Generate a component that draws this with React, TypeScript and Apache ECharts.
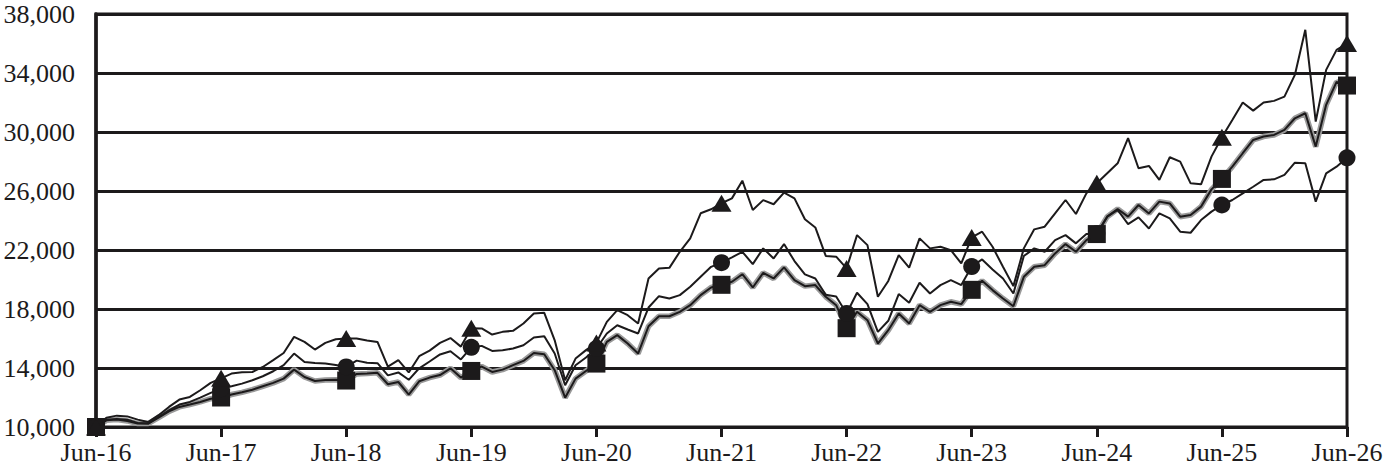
import React, { useEffect, useRef } from "react";
import * as echarts from "echarts";

const tickLabels = ["Jun-16", "Jun-17", "Jun-18", "Jun-19", "Jun-20", "Jun-21", "Jun-22", "Jun-23", "Jun-24", "Jun-25", "Jun-26"];

const triangleValues = [
  10000, 10630, 10770, 10720, 10500, 10340, 10800, 11360, 11860, 12040, 12490, 12990,
  13300, 13620, 13710, 13730, 14070, 14530, 15020, 16110, 15770, 15250, 15700, 15950,
  16000, 16000, 15870, 15770, 14100, 14530, 13700, 14800, 15180, 15700, 16030, 15450,
  16700, 16680, 16270, 16450, 16520, 17020, 17700, 17740, 15880, 13170, 14640, 15210,
  15700, 17130, 17920, 17580, 17020, 20070, 20750, 20790, 21880, 22790, 24490, 24760,
  25170, 25500, 26700, 24710, 25380, 25100, 25890, 25500, 24080, 23530, 21600, 21550,
  20750, 23010, 22330, 18830, 19900, 21650, 20800, 22790, 22110, 22220, 21990, 21090,
  22850, 23240, 22220, 20860, 19550, 22110, 23400, 23580, 24490, 25390, 24440, 25840,
  26520, 27200, 27880, 29580, 27540, 27700, 26750, 28290, 27990, 26520, 26450, 28330,
  29650, 30820, 32000, 31450, 32000, 32110, 32400, 33870, 36930, 30710, 34210, 35570,
  36000,
];

const circleValues = [
  10000, 10500, 10540, 10500, 10270, 10230, 10680, 11130, 11520, 11700, 11990, 12310,
  12600, 12760, 12940, 13170, 13440, 13780, 14190, 14980, 14410, 14340, 14300, 14200,
  14070, 14500, 14360, 14330, 13500, 13700, 13200, 13980, 14440, 14920, 15130, 14580,
  15400, 15500, 15160, 15200, 15320, 15540, 16070, 16160, 14980, 12830, 14190, 14710,
  15320, 16340, 16900, 16610, 16340, 18100, 18870, 18710, 18940, 19510, 20190, 20860,
  21140, 21500, 21880, 21040, 22110, 21430, 22400, 21250, 20350, 20070, 18970, 18850,
  17700, 19100, 18330, 16450, 17200, 19010, 18420, 19780, 19050, 19620, 19960, 19620,
  20880, 21360, 20680, 20070, 19050, 21590, 22110, 21880, 22670, 23010, 22450, 23080,
  23100, 24260, 24710, 23760, 24210, 23460, 24480, 24140, 23240, 23170, 24030, 24600,
  25050, 25390, 25840, 26290, 26750, 26790, 27090, 27920, 27880, 25280, 27200, 27650,
  28250,
];

const squareValues = [
  10000, 10450, 10500, 10410, 10230, 10230, 10630, 11060, 11360, 11520, 11700, 11920,
  12000, 12200, 12350, 12530, 12760, 12990, 13280, 13890, 13390, 13120, 13190, 13210,
  13150, 13600, 13620, 13670, 12900, 13050, 12200, 13100, 13350, 13520, 13980, 13350,
  13800, 14100, 13730, 13890, 14190, 14480, 15020, 14930, 13850, 11990, 13280, 13800,
  14300, 15770, 16230, 15660, 14980, 16830, 17510, 17510, 17810, 18260, 18940, 19460,
  19640, 19850, 20360, 19460, 20450, 20070, 20820, 19960, 19550, 19620, 18830, 18260,
  16700, 17810, 17240, 15660, 16560, 17690, 17020, 18260, 17810, 18260, 18490, 18330,
  19300, 19910, 19280, 18710, 18190, 20180, 20860, 20970, 21770, 22400, 21880, 22670,
  23080, 24260, 24780, 24260, 25050, 24480, 25280, 25160, 24260, 24370, 24940, 26110,
  26820, 27650, 28560, 29460, 29690, 29800, 30140, 30930, 31270, 29010, 31840, 33400,
  33150,
];

const toPoints = (arr: number[]) => arr.map((v, i) => [i, v]);
const junePoints = (arr: number[]) =>
  arr.map((v, i) => [i, v]).filter((p) => (p[0] as number) % 12 === 0);

const INK = "#1c1a1b";
const FONT = "'Liberation Serif', 'Times New Roman', serif";

export default function App() {
  const ref = useRef<HTMLDivElement>(null);

  useEffect(() => {
    document.body.style.margin = "0";
    if (!ref.current) return;
    const chart = echarts.init(ref.current, undefined, { renderer: "svg" });
    const lineBase = {
      type: "line",
      symbol: "none",
      silent: true,
      lineStyle: { color: INK, width: 2 },
      z: 3,
    };
    const markerBase = {
      type: "scatter",
      silent: true,
      itemStyle: { color: INK, opacity: 1 },
      z: 5,
    };
    chart.setOption({
      animation: false,
      backgroundColor: "#ffffff",
      grid: {
        left: 96,
        right: 40,
        top: 14,
        bottom: 42,
        show: true,
        borderColor: INK,
        borderWidth: 3,
        backgroundColor: "transparent",
      },
      xAxis: {
        type: "value",
        min: 0,
        max: 120,
        interval: 12,
        splitLine: { show: false },
        axisLine: { show: true, lineStyle: { color: INK, width: 3 } },
        axisTick: { show: true, inside: false, length: 10, lineStyle: { color: INK, width: 3 } },
        axisLabel: {
          show: true,
          margin: 12,
          fontFamily: FONT,
          fontSize: 26,
          color: INK,
          formatter: (v: number) => tickLabels[Math.round(v / 12)] ?? "",
        },
      },
      yAxis: {
        type: "value",
        min: 10000,
        max: 38000,
        interval: 4000,
        axisLine: { show: true, lineStyle: { color: INK, width: 3.5 } },
        axisTick: { show: false },
        splitLine: { show: true, lineStyle: { color: INK, width: 3 } },
        axisLabel: {
          margin: 21,
          fontFamily: FONT,
          fontSize: 26,
          color: INK,
          formatter: (v: number) => v.toLocaleString("en-US"),
        },
      },
      series: [
        {
          ...lineBase,
          name: "square-shadow",
          data: toPoints(squareValues),
          lineStyle: { color: "#9a9a9a", width: 5.5 },
          z: 2,
        },
        { ...lineBase, name: "square", data: toPoints(squareValues) },
        { ...lineBase, name: "circle", data: toPoints(circleValues) },
        { ...lineBase, name: "triangle", data: toPoints(triangleValues) },
        { ...markerBase, name: "square-mk", data: junePoints(squareValues), symbol: "rect", symbolSize: 18 },
        { ...markerBase, name: "circle-mk", data: junePoints(circleValues), symbol: "circle", symbolSize: 17 },
        { ...markerBase, name: "triangle-mk", data: junePoints(triangleValues), symbol: "triangle", symbolSize: [20, 17] },
      ],
    });
    return () => chart.dispose();
  }, []);

  return <div ref={ref} style={{ width: 1387, height: 469 }} />;
}
